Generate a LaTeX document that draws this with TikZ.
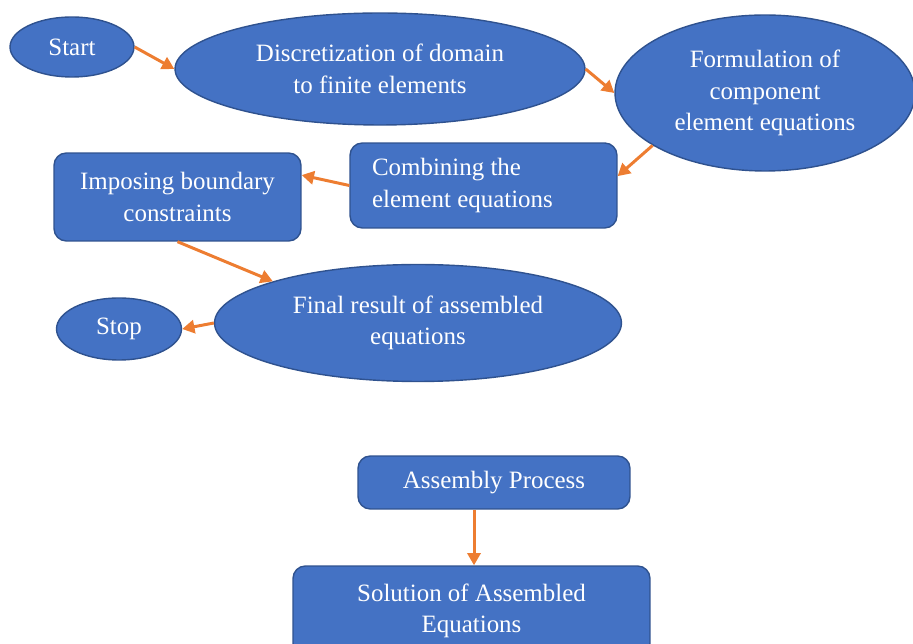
\documentclass[tikz,border=0pt]{standalone}
\usepackage{fontspec}
\setmainfont{Liberation Serif}
\usetikzlibrary{positioning, calc, arrows.meta, shapes.geometric}
\definecolor{Blue}{HTML}{4472C4}
\definecolor{Edge}{HTML}{2F528F}
\definecolor{Orange}{HTML}{ED7D31}
\definecolor{White}{HTML}{FFFFFF}
\tikzset{
    ovalnode/.style={ellipse, fill=Blue, draw=Edge, line width=0.8pt, text=White, align=center, inner sep=0pt, font=\fontsize{14.2}{18}\selectfont},
    boxnode/.style={rectangle, rounded corners=7pt, fill=Blue, draw=Edge, line width=0.8pt, text=White, align=center, inner sep=0pt, font=\fontsize{14.2}{18}\selectfont},
    arrow/.style={-{Triangle[length=7pt,width=7.5pt]}, line width=1.7pt, color=Orange},
}

\begin{document}
\begin{tikzpicture}[x=0.02cm, y=-0.02cm]
                \useasboundingbox (0,0) rectangle (913,644);
                \node[ovalnode, minimum width=2.48cm, minimum height=1.2cm] (start) at (72,47) {Start};
                \node[ovalnode, minimum width=8.2cm, minimum height=2.24cm] (disc) at (380,69) {Discretization of domain\\to finite elements};
                \node[ovalnode, minimum width=6cm, minimum height=3.12cm] (form) at (765,93) {Formulation of\\component\\element equations};
                \node[boxnode, minimum width=5.34cm, minimum height=1.7cm, text width=4.46cm, inner xsep=0.44cm, align=flush left] (comb) at (483.5,185.5) {Combining the\\element equations};
                \node[boxnode, minimum width=4.94cm, minimum height=1.76cm] (imp) at (177.5,197) {Imposing boundary\\constraints};
                \node[ovalnode, minimum width=8.14cm, minimum height=2.34cm] (final) at (418,323) {Final result of assembled\\equations};
                \node[ovalnode, minimum width=2.5cm, minimum height=1.24cm] (stop) at (119,329) {Stop};
                \node[boxnode, minimum width=5.44cm, minimum height=1.06cm] (asm) at (494,482.5) {Assembly Process};
                \node[boxnode, minimum width=7.14cm, minimum height=1.8cm] (sol) at (471.5,611) {Solution of Assembled\\Equations};

                \draw[arrow] (start.east) -- (disc.west);
                \draw[arrow] (disc.east) -- (form.west);
                \draw[arrow] (form.205) -- (comb.4);
                \draw[arrow] (comb.west) -- (imp.10);
                \draw[arrow] (imp.south) -- (final.164);
                \draw[arrow] (final.west) -- (stop.east);
                \draw[arrow] ([xshift=-0.4cm]asm.south) -- ([xshift=-0.4cm]asm.south |- sol.north);
            \end{tikzpicture}
\end{document}
